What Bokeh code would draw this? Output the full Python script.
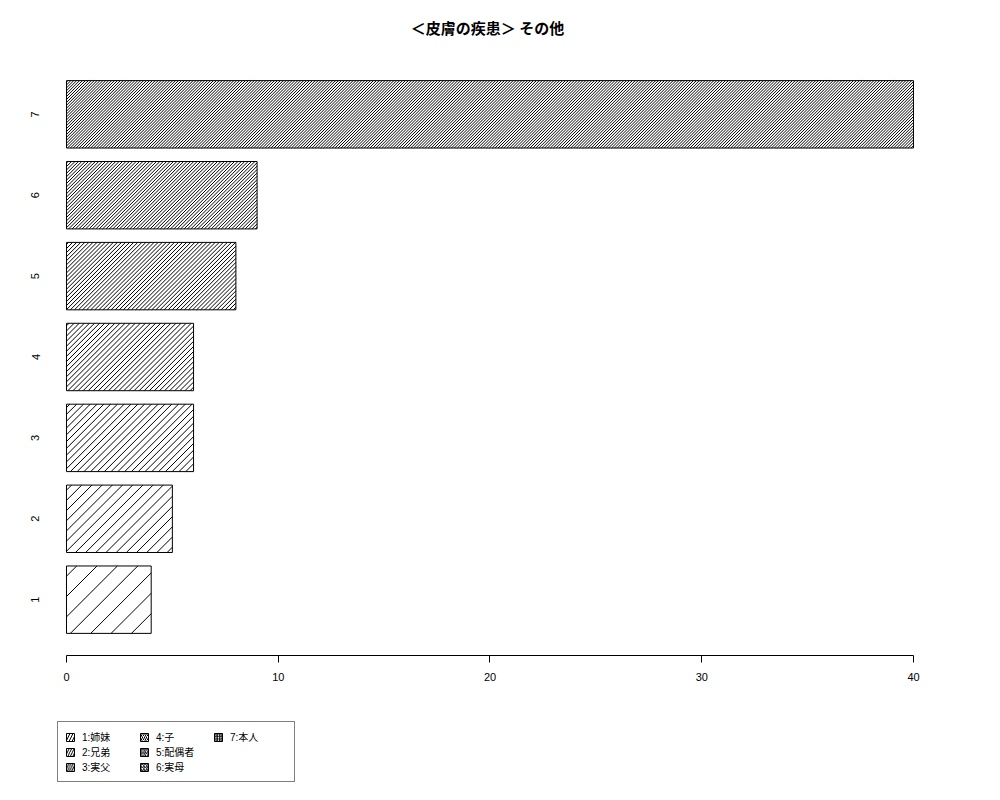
import math
from bokeh.plotting import figure
from bokeh.layouts import column
from bokeh.models import Range1d, FixedTicker, Legend, LegendItem, Label
from bokeh.embed import file_html
from bokeh.resources import INLINE

# ---- data ----
categories = ["1", "2", "3", "4", "5", "6", "7"]
values = [4, 5, 6, 6, 8, 9, 40]
legend_labels = ["1:姉妹", "2:兄弟", "3:実父", "4:子", "5:配偶者", "6:実母", "7:本人"]
densities = [5, 10, 15, 20, 25, 30, 35]   # hatch lines per inch (R style)
x_ticks = [0, 10, 20, 30, 40]
title_text = "＜皮膚の疾患＞ その他"

JP = "Noto Sans CJK JP"
NUM = "Liberation Sans"
MIXED = "'Liberation Sans', 'Noto Sans CJK JP', sans-serif"

# ---- layout (R barplot style: bar width 1, space 0.2, 4% axis padding) ----
bar_w, gap = 1.0, 0.2
ys = [gap + bar_w / 2 + i * (bar_w + gap) for i in range(len(categories))]
ylo, yhi = gap, ys[-1] + bar_w / 2
ypad = 0.04 * (yhi - ylo)
x0, x1 = -0.85, 41.606
y0, y1 = ylo - ypad, yhi + ypad

FW, FH = 899, 597
LEFT, RIGHT, BOTTOM = 48, 45, 45
TH, LH = 58, 90          # title strip and legend strip heights
sx = FW / (x1 - x0)      # px per x unit
sy = FH / (y1 - y0)      # px per y unit


def strip(h):
    f = figure(width=LEFT + FW + RIGHT, height=h, frame_width=FW, frame_height=h,
               output_backend="svg", toolbar_location=None,
               x_range=Range1d(x0, x1), y_range=Range1d(0, h),
               x_axis_location=None, y_axis_location=None,
               min_border_left=LEFT, min_border_right=RIGHT,
               min_border_top=0, min_border_bottom=0)
    f.outline_line_color = None
    f.xgrid.visible = False
    f.ygrid.visible = False
    f.background_fill_color = "white"
    f.border_fill_color = "white"
    return f


p = figure(width=LEFT + FW + RIGHT, height=FH + BOTTOM,
           frame_width=FW, frame_height=FH,
           output_backend="svg", toolbar_location=None,
           x_range=Range1d(x0, x1), y_range=Range1d(y0, y1),
           min_border_left=LEFT, min_border_right=RIGHT, min_border_top=0,
           min_border_bottom=BOTTOM)
p.outline_line_color = None
p.xgrid.visible = False
p.ygrid.visible = False
p.background_fill_color = "white"
p.border_fill_color = "white"

tf = strip(TH)
lg = strip(LH)

legend_swatch_scale = [6, 5, 4.5, 4, 3.5, 3, 2.5]

items = []
for i, (c, v, lab, d) in enumerate(zip(categories, values, legend_labels, densities)):
    # 45-degree hatch lines (screen space), R-style density in lines/inch at 72 dpi
    step = 72.0 / d * math.sqrt(2)          # horizontal spacing in px
    W = v * sx
    H = bar_w * sy
    bx, by = 0.0, ys[i] - bar_w / 2
    xs0, ys0, xs1, ys1 = [], [], [], []
    cc = -H + step / 2
    while cc < W:
        va = max(0.0, -cc)
        vb = min(H, W - cc)
        if vb > va:
            xs0.append(bx + (va + cc) / sx)
            ys0.append(by + va / sy)
            xs1.append(bx + (vb + cc) / sx)
            ys1.append(by + vb / sy)
        cc += step
    p.segment(x0=xs0, y0=ys0, x1=xs1, y1=ys1, line_color="black", line_width=1)
    p.hbar(y=[ys[i]], right=[v], left=0, height=bar_w,
           fill_color=None, line_color="black", line_width=1)
    # legend-only swatch renderer (hidden in the legend strip)
    r = lg.hbar(y=[ys[i]], right=[v], left=0, height=bar_w,
                fill_color="white", line_color="black", line_width=1,
                hatch_pattern="/", hatch_color="black",
                hatch_scale=legend_swatch_scale[i], hatch_weight=1)
    r.visible = False
    items.append(LegendItem(label=lab, renderers=[r]))

# axes
xa = p.xaxis[0]
xa.ticker = FixedTicker(ticks=x_ticks)
xa.bounds = (x_ticks[0], x_ticks[-1])
xa.axis_line_color = "black"
xa.major_tick_line_color = "black"
xa.major_tick_out = 7
xa.major_tick_in = 0
xa.minor_tick_line_color = None
xa.major_label_standoff = 10
xa.major_label_text_font = NUM
xa.major_label_text_font_size = "11px"
xa.major_label_text_color = "black"

ya = p.yaxis[0]
ya.ticker = FixedTicker(ticks=ys)
ya.major_label_overrides = {y: c for y, c in zip(ys, categories)}
ya.axis_line_color = None
ya.major_tick_line_color = None
ya.minor_tick_line_color = None
ya.major_tick_out = 0
ya.major_tick_in = 0
ya.major_label_standoff = 9
ya.major_label_orientation = "vertical"
ya.major_label_text_font = NUM
ya.major_label_text_font_size = "11px"
ya.major_label_text_color = "black"

# title (strip above the chart), centred on the R figure region
title = Label(x=x0 + (487 - LEFT) / sx, y=TH - 27, text=title_text,
              text_align="center", text_baseline="middle",
              text_font=JP, text_font_size="15px", text_font_style="bold",
              text_color="black")
tf.add_layout(title)

legend = Legend(items=items, location=(9, 8), orientation="vertical", nrows=3,
                border_line_color="black", border_line_width=1,
                background_fill_color="white", background_fill_alpha=1,
                inactive_fill_alpha=0,
                label_text_font=MIXED, label_text_font_size="10px",
                label_text_line_height=1.0,
                label_text_color="black",
                glyph_width=10, glyph_height=10, label_height=12, label_width=57,
                label_standoff=7, padding=7, spacing=0, margin=0)
lg.add_layout(legend, "center")

layout = column(tf, p, lg, spacing=0)
open("out.html", "w").write(file_html(layout, INLINE))
